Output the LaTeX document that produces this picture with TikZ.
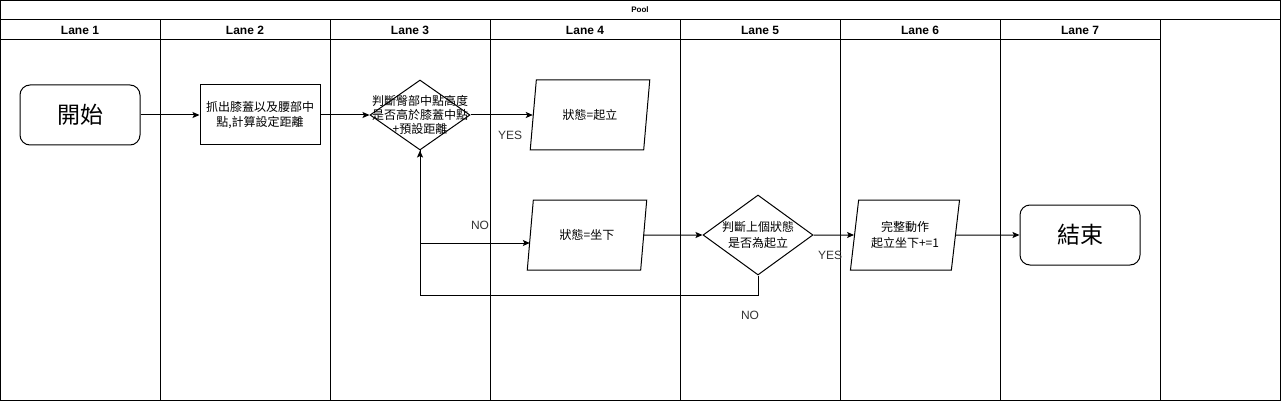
\documentclass[tikz,border=0pt]{standalone}
\usepackage{fontspec}
\setmainfont{Liberation Sans}
\newfontfamily\cjk{Noto Sans CJK TC}
\usetikzlibrary{shapes.geometric}
\usetikzlibrary{arrows,arrows.meta,shapes}

\begin{document}
\begin{tikzpicture}[x=1pt, y=-1pt, >={Stealth[length=7pt,width=6pt,inset=1.5pt]}, line width=1pt,
            terminal/.style = {draw, rounded corners=10pt, minimum width=120pt, minimum height=60pt, font=\cjk\fontsize{23}{26}\selectfont},
            process/.style = {draw, minimum width=120pt, minimum height=60pt, align=center, font=\cjk\fontsize{12}{15}\selectfont},
            decision/.style = {draw, diamond, inner sep=0pt},
            inside/.style = {align=center, inner sep=0pt, font=\cjk\fontsize{12}{14}\selectfont},
            io/.style = {draw, trapezium, trapezium left angle=79, trapezium right angle=101, trapezium stretches=true,
                minimum height=70pt, align=center, font=\cjk\fontsize{12}{16}\selectfont},
            lane title/.style = {font=\fontsize{12}{14}\bfseries\selectfont},
            branch/.style = {font=\fontsize{12}{14}\selectfont, text=black!80}
            ]
            \useasboundingbox (0,0) rectangle (1282,401);
            \draw (0.5,0.5) rectangle (1280,400.5);
            \draw (0.5,20) -- (1280,20);
            \draw (0.5,40) -- (1160,40);
            \foreach \x in {160,330,490,680,840,1000,1160}
                \draw (\x,20) -- (\x,400.5);
            \node[font=\fontsize{8}{10}\bfseries\selectfont] (pool) at (640,10) {Pool};
            \foreach \i/\x in {1/80,2/245,3/410,4/585,5/760,6/920,7/1080}
                \node[lane title] (lane\i) at (\x,30) {Lane \i};

            \node[terminal] (start) at (80,115) {開始};
            \node[process] (grab) at (260,115) {抓出膝蓋以及腰部中\\點,計算設定距離};
            \node[decision, minimum width=100pt, minimum height=70pt,
                label={[inside]center:{判斷臀部中點高度\\是否高於膝蓋中點\\+預設距離}}] (judge) at (420,115) {};
            \node[io, minimum width=120pt] (up) at (590,115) {狀態=起立};
            \node[io, minimum width=120pt] (down) at (587,235) {狀態=坐下};
            \node[decision, minimum width=110pt, minimum height=80pt,
                label={[inside, font=\cjk\fontsize{12}{16}\selectfont]center:{判斷上個狀態\\是否為起立}}] (last) at (758,235) {};
            \node[io, minimum width=110pt] (count) at (905,235) {完整動作\\起立坐下+=1};
            \node[terminal] (finish) at (1080,235) {結束};

            \draw[->] (start) -- (grab);
            \draw[->] (grab) -- (judge);
            \draw[->] (judge) -- (up);
            \draw[->] (judge.south) |- ([yshift=-8pt]down.west);
            \draw[->] (down) -- (last);
            \draw[->] (last) -- (count);
            \draw[->] (last.south) -- ++(0,20) -| (judge.south);
            \draw[->] (count) -- (finish);

            \node[branch] (yes1) at (510,135) {YES};
            \node[branch] (no1) at (480,225) {NO};
            \node[branch] (yes2) at (830,255) {YES};
            \node[branch] (no2) at (750,315) {NO};
        \end{tikzpicture}
\end{document}
